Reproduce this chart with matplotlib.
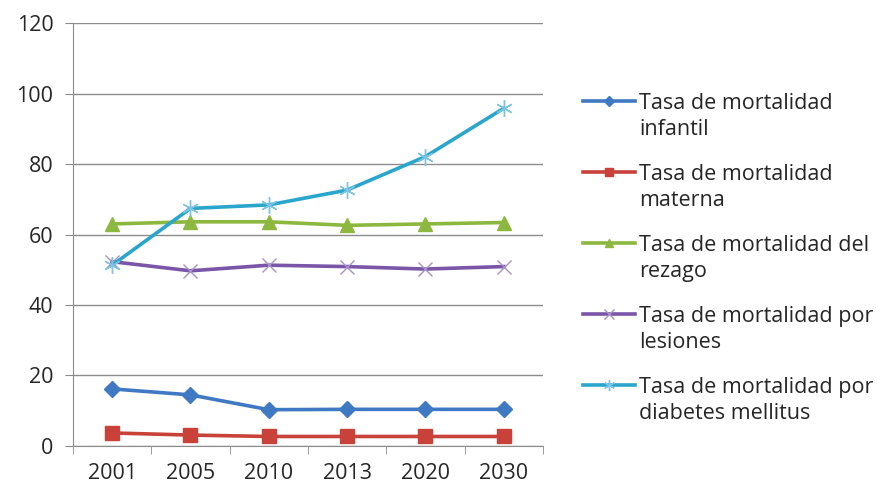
import numpy as np
import matplotlib.pyplot as plt
from matplotlib.legend_handler import HandlerLine2D

anios = ["2001", "2005", "2010", "2013", "2020", "2030"]

infantil = [16.2, 14.5, 10.3, 10.4, 10.4, 10.4]
materna = [3.7, 3.1, 2.7, 2.7, 2.7, 2.7]
rezago = [63.0, 63.6, 63.6, 62.6, 63.0, 63.4]
lesiones = [52.3, 49.7, 51.3, 50.9, 50.2, 50.9]
diabetes = [51.3, 67.4, 68.4, 72.6, 82.1, 95.8]

etiquetas = [
    "Tasa de mortalidad\ninfantil",
    "Tasa de mortalidad\nmaterna",
    "Tasa de mortalidad del\nrezago",
    "Tasa de mortalidad por\nlesiones",
    "Tasa de mortalidad por\ndiabetes mellitus",
]

plt.rcParams["font.family"] = ["Open Sans", "DejaVu Sans"]
tam = 15.5


class HandlerArriba(HandlerLine2D):
    # sube el simbolo a la altura de la primera linea del texto
    def create_artists(self, legend, orig_handle, xdescent, ydescent,
                       width, height, fontsize, trans):
        artistas = super().create_artists(legend, orig_handle, xdescent,
                                           ydescent, width, height,
                                           fontsize, trans)
        for a in artistas:
            a.set_ydata(np.asarray(a.get_ydata()) + 0.72 * fontsize)
        return artistas


fig = plt.figure(figsize=(8.77, 4.95), dpi=100)
ax = fig.add_axes([0.0832, 0.099, 0.5358, 0.8545])

x = np.arange(len(anios))

# estilos de cada serie (colores tipo Office)
estilos = [
    dict(color="#3F78C3", marker="D", markersize=8),
    dict(color="#C8423A", marker="s", markersize=9.5),
    dict(color="#8DB840", marker="^", markersize=9.5),
    dict(color="#7A55A8", marker="x", markersize=10, markeredgewidth=1,
         markeredgecolor="#A890C8"),
    dict(color="#2AA5CC", marker=(6, 2, 0), markersize=12, markeredgewidth=1,
         markeredgecolor="#7CC4E0"),
]

lineas = []
for serie, etiqueta, estilo in zip(
    [infantil, materna, rezago, lesiones, diabetes], etiquetas, estilos
):
    (l,) = ax.plot(x, serie, linewidth=2.6, label=etiqueta, **estilo)
    lineas.append(l)

ax.set_xlim(-0.5, len(anios) - 0.5)
ax.set_ylim(0, 120)
ax.set_yticks(range(0, 121, 20))
ax.set_xticks(x)
ax.set_xticklabels(anios)
ax.set_xticks(np.arange(-0.5, len(anios), 1), minor=True)
ax.tick_params(axis="x", which="major", length=0, pad=12, labelsize=tam,
               labelcolor="#262626")
ax.tick_params(axis="x", which="minor", length=6, color="#8C8C8C",
               direction="out")
ax.tick_params(axis="y", length=6, color="#8C8C8C", labelsize=tam,
               labelcolor="#262626", pad=8)

ax.grid(axis="y", color="#8C8C8C", linewidth=1)
ax.set_axisbelow(True)
for lado in ["top", "right"]:
    ax.spines[lado].set_visible(False)
for lado in ["left", "bottom"]:
    ax.spines[lado].set_color("#8C8C8C")

leyenda = ax.legend(
    loc="upper left",
    bbox_to_anchor=(1.045, 0.88),
    frameon=False,
    fontsize=tam,
    handlelength=2.4,
    handletextpad=0.2,
    labelspacing=1.14,
    markerscale=0.65,
    handler_map={l: HandlerArriba() for l in lineas},
)
for texto in leyenda.get_texts():
    texto.set_color("#262626")
    texto.set_linespacing(1.28)

fig.savefig("out.png", dpi=100)
